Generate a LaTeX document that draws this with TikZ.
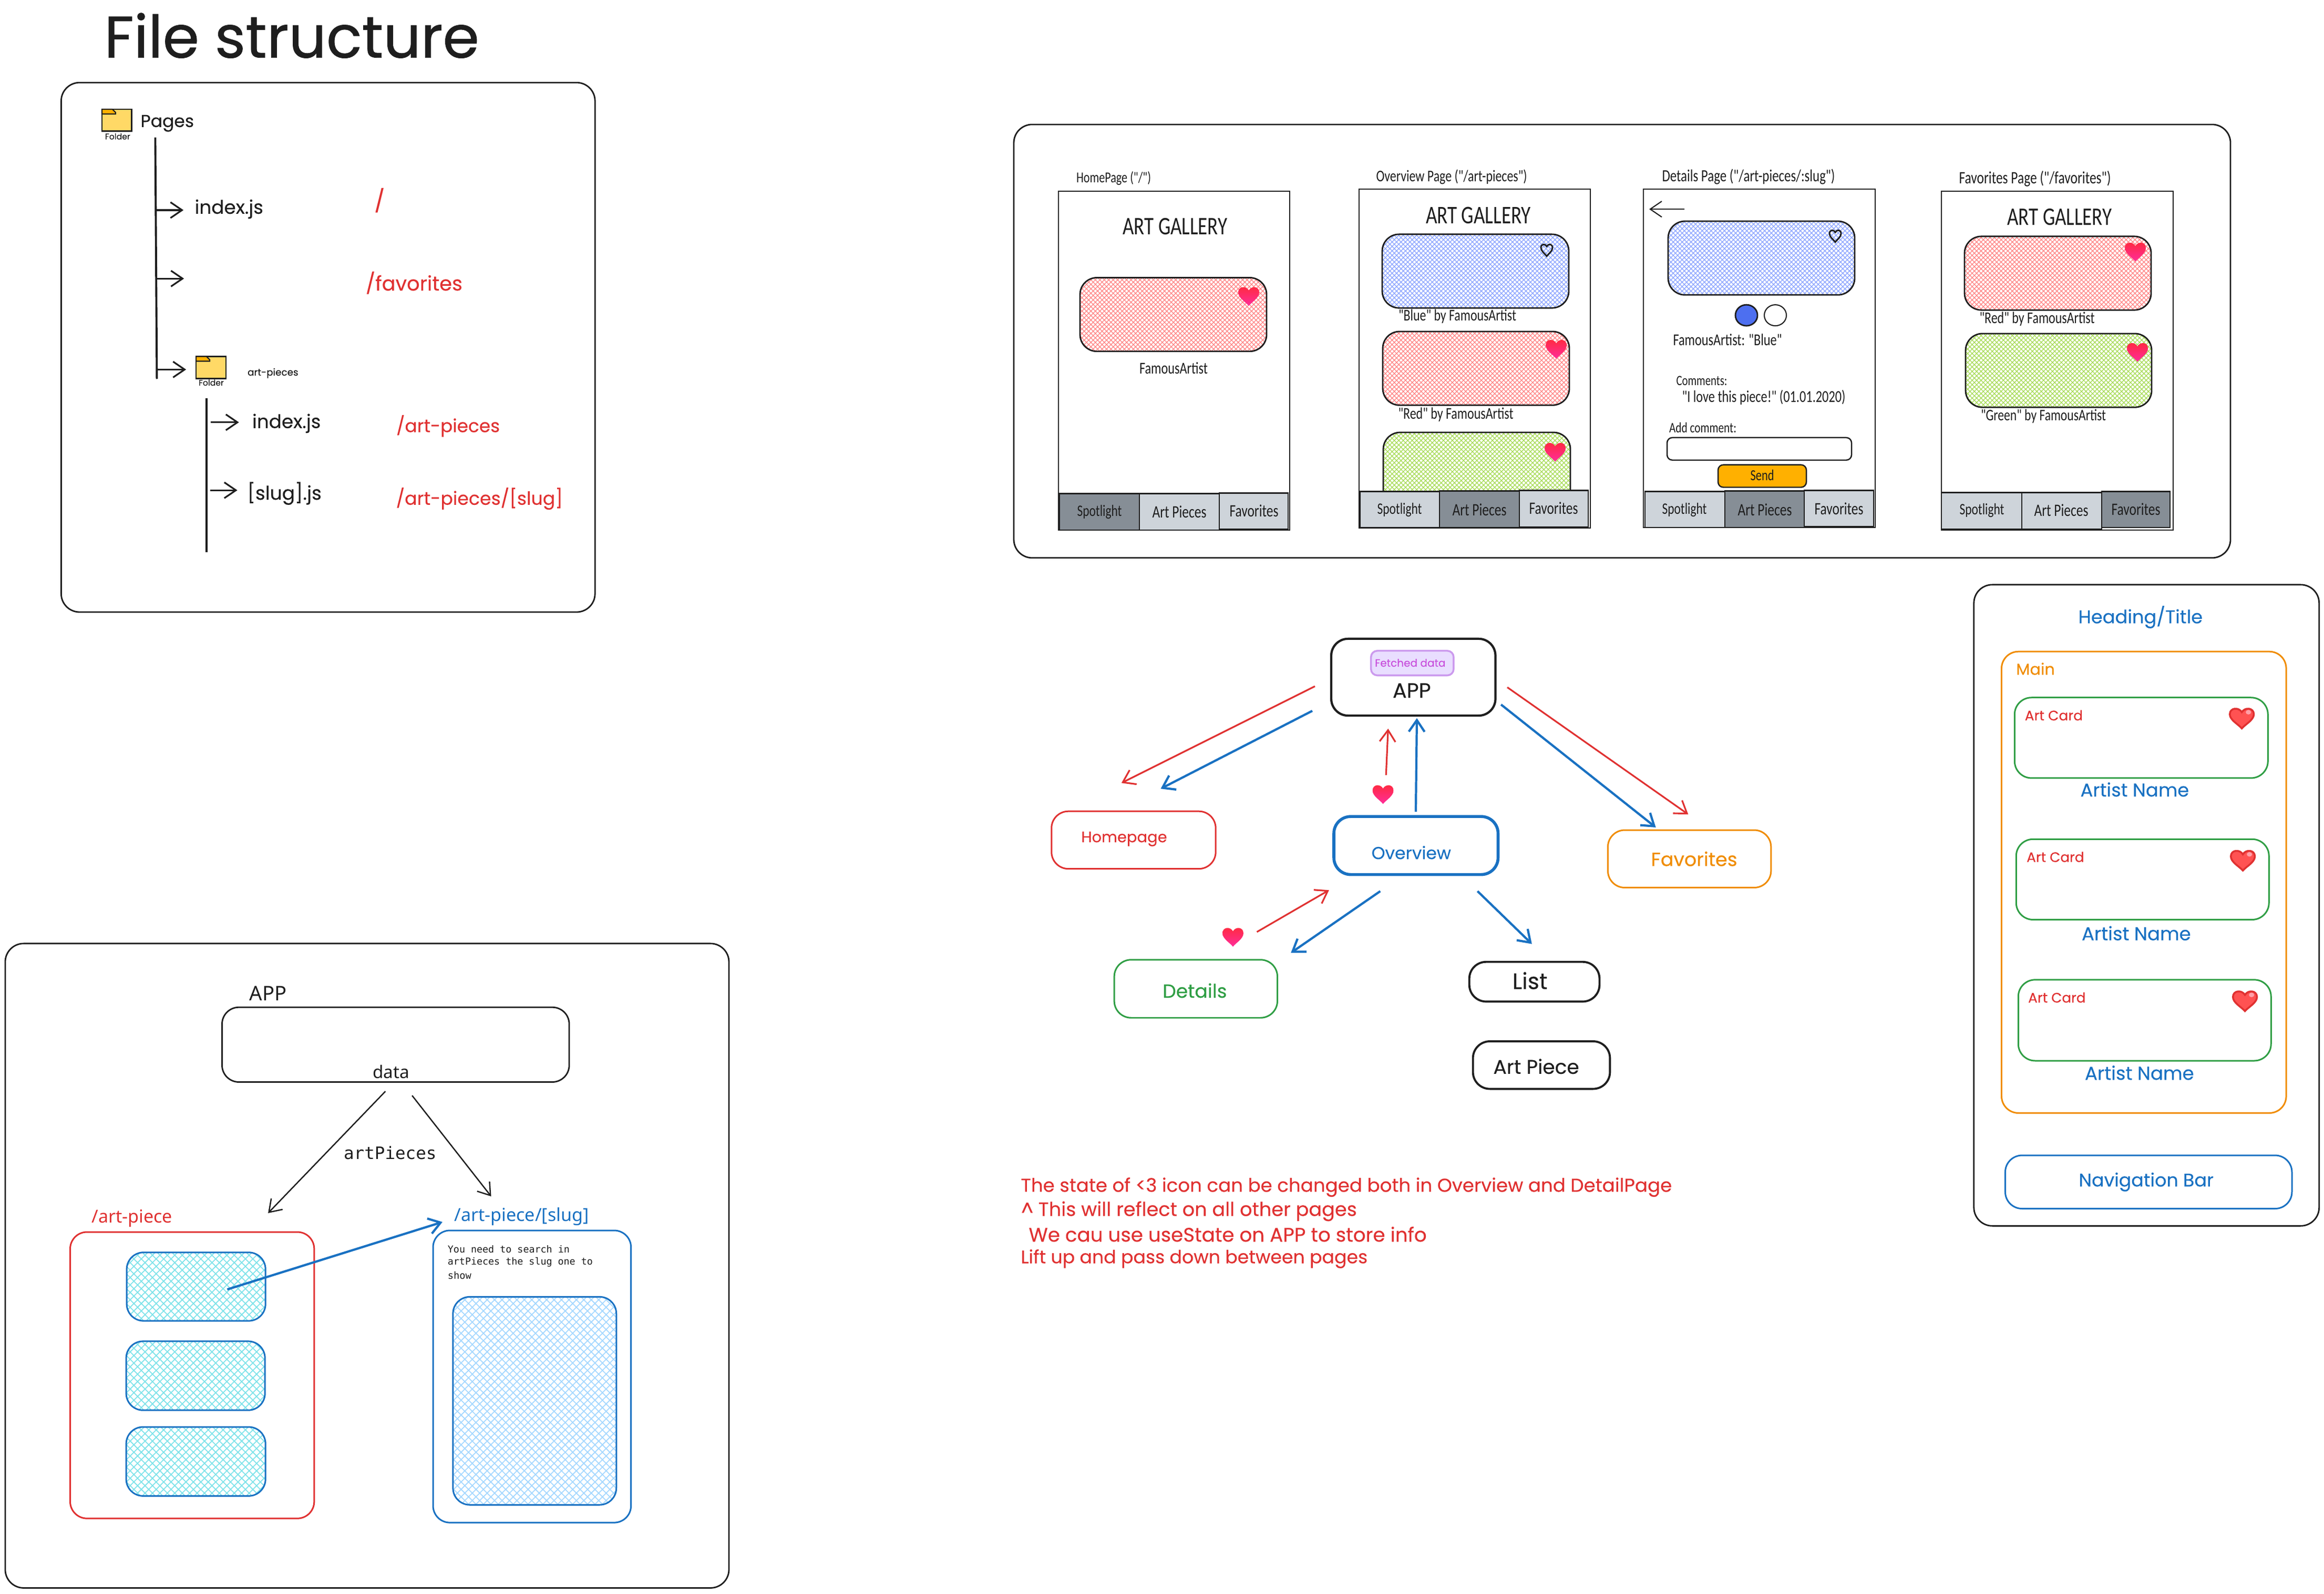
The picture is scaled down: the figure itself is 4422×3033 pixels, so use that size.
\documentclass[tikz,border=0pt]{standalone}
\usepackage{fontspec}
\usepackage{graphicx}
\usetikzlibrary{arrows.meta,patterns.meta,shapes.geometric}
\setmainfont{Poppins}[FakeBold=0.25]
\newfontfamily\titlefont{Poppins}[FakeBold=0.7]
\newfontfamily\wirefont{Carlito}
\newfontfamily\plainfont{Noto Sans}
\newfontfamily\monofont{DejaVu Sans Mono}
\newcommand\wire[1]{\scalebox{1}[1.3]{\wirefont #1}}
\newcommand\plain[1]{{\plainfont #1}}
\newcommand\mono[1]{{\monofont #1}}
\newcommand\ttl[1]{{\titlefont #1}}
\definecolor{ink}{HTML}{1E1E1E}
\definecolor{xred}{HTML}{E03131}
\definecolor{xblue}{HTML}{1971C2}
\definecolor{xorange}{HTML}{F08C00}
\definecolor{xgreen}{HTML}{2F9E44}
\definecolor{navdark}{HTML}{868E96}
\definecolor{navlight}{HTML}{CED4DA}
\definecolor{hred}{HTML}{FF8787}
\definecolor{hblue}{HTML}{8EA6FF}
\definecolor{hgreen}{HTML}{A9DC5A}
\definecolor{hcyan}{HTML}{7FE3EA}
\definecolor{hsky}{HTML}{A5D8FF}
\definecolor{dotblue}{HTML}{4D6FF0}
\definecolor{sendorange}{HTML}{FFB000}
\definecolor{fyellow}{HTML}{FFD966}
\definecolor{purplefill}{HTML}{E9DEFF}
\definecolor{purpleline}{HTML}{CC9AEE}
\definecolor{purpletext}{HTML}{C850DC}
\definecolor{hearttop}{HTML}{FF2A3C}
\definecolor{heartbot}{HTML}{FF2D9A}
\definecolor{heartfill}{HTML}{FF5252}
\definecolor{heartglow}{HTML}{FFA0A8}
\newdimen\pxu \pxu=0.01cm
\def\fx{1}\def\fy{1}
\newenvironment{zone}[4]{\def\fx{#3}\def\fy{#4}\begin{scope}[shift={(#1,#2)},xscale=#3,yscale=#4,shift={(-#1,-#2)}]}{\end{scope}}
\tikzset{
  labelbox/.style={inner sep=0pt,outer sep=0pt},
  framebox/.style={draw=ink,line width=.8pt,inner sep=0pt,outer sep=0pt,rounded corners=.35cm},
  cardbox/.style={draw=ink,line width=.8pt,inner sep=0pt,outer sep=0pt,rounded corners=.32cm},
  colorbox/.style={draw=#1,line width=.85pt,inner sep=0pt,outer sep=0pt,rounded corners=.32cm},
  phonebox/.style={draw=ink,line width=.6pt,inner sep=0pt,outer sep=0pt,fill=white},
  navon/.style={draw=ink,line width=.7pt,inner sep=0pt,outer sep=0pt,fill=navdark},
  navoff/.style={draw=ink,line width=.7pt,inner sep=0pt,outer sep=0pt,fill=navlight},
  hatch/.style n args={3}{preaction={pattern={Lines[angle=45,distance=#2,line width=#3]},pattern color=#1},
     pattern={Lines[angle=-45,distance=#2,line width=#3]},pattern color=#1},
  linkbase/.style={line width=.9pt,-{Straight Barb[length=2.2mm,width=3mm]}},
  treeline/.style={draw=ink,line width=1.1pt},
}
\newcommand\tlab[7]{\node[labelbox,text=#5] (#1) at (#2,#3) {\resizebox{\fx\dimexpr#4\pxu\relax}{!}{#6{#7}}};}
\newcommand\rbox[6]{\node[#2,anchor=north west,minimum width={(#5-#3)*\fx*0.01cm},minimum height={(#6-#4)*\fy*0.01cm}] (#1) at (#3,#4) {};}
\newcommand\cnct[6]{\coordinate (#1s) at (#3,#4);\coordinate (#1e) at (#5,#6);\draw[#2] (#1s) -- (#1e);}
\newcommand\heartpath{(0,-.55) .. controls (-.25,-1.05) and (-1,-1) .. (-1,-.35) .. controls (-1,.2) and (-.3,.6) .. (0,1) .. controls (.3,.6) and (1,.2) .. (1,-.35) .. controls (1,-1) and (.25,-1.05) .. (0,-.55) -- cycle}
\newcommand\gheart[2]{\begin{scope}[shift={(#1,#2)},xscale=20,yscale=19]\shade[top color=hearttop,bottom color=heartbot] \heartpath;\end{scope}}
\newcommand\oheart[2]{\begin{scope}[shift={(#1,#2)},xscale=11,yscale=12]\draw[ink,line width=.8pt] \heartpath;\end{scope}}
\newcommand\rheart[2]{\begin{scope}[shift={(#1,#2)},xscale=23,yscale=20]\draw[fill=heartfill,draw=xred,line width=1pt] \heartpath;\fill[heartglow] (.55,-.55) ellipse (.22 and .22);\end{scope}}
\newcommand\folder[2]{\begin{scope}[shift={(#1,#2)}]
  \fill[fyellow,draw=ink,line width=.7pt] (0,0) rectangle (57,42);
  \fill[sendorange,draw=ink,line width=.6pt] (0,0) -- (20,0) -- (26,6) -- (26,9) -- (0,9) -- cycle;
  \end{scope}}
\begin{document}
\begin{tikzpicture}[x=0.01cm,y=-0.01cm]
\useasboundingbox (0,0) rectangle (4422,3033);
\fill[white] (0,0) rectangle (4422,3033);

% ---------- File structure ----------
\begin{zone}{0}{0}{.99487}{.99487}
\tlab{title}{558}{68}{717}{ink}{\ttl}{File structure}
\rbox{fsframe}{framebox}{117}{158}{1138}{1171}
\folder{195}{209}
\tlab{fold1}{225}{261}{48}{ink}{}{Folder}
\tlab{pages}{320}{236}{102}{ink}{}{Pages}
\cnct{tree1}{treeline}{297}{263}{300}{725}
\cnct{fa1}{linkbase,ink}{298}{402}{351}{402}
\tlab{idx1}{438}{400}{131}{ink}{}{index.js}
\cnct{fa2}{linkbase,ink}{300}{533}{352}{533}
\cnct{fa3}{linkbase,ink}{302}{707}{356}{707}
\folder{375}{682}
\tlab{fold2}{404}{732}{48}{ink}{}{Folder}
\tlab{artp}{522}{714}{97}{ink}{}{art-pieces}
\cnct{tree2}{treeline}{395}{762}{395}{1056}
\cnct{fa4}{linkbase,ink}{403}{808}{457}{808}
\tlab{idx2}{548}{810}{131}{ink}{}{index.js}
\cnct{fa5}{linkbase,ink}{402}{938}{454}{938}
\tlab{slug}{544}{944}{142}{ink}{}{[slug].js}
\tlab{rroot}{726}{383}{20}{xred}{}{/}
\tlab{rfav}{792}{541}{185}{xred}{}{/favorites}
\tlab{rart}{857}{815}{198}{xred}{}{/art-pieces}
\tlab{rslug}{917}{954}{319}{xred}{}{/art-pieces/[slug]}
\end{zone}

% ---------- Wireframes ----------
\begin{zone}{0}{220}{1}{.99506}
\rbox{wframe}{framebox}{1929}{237}{4244}{1066}

% phone 1
\rbox{ph1}{phonebox}{2014}{365}{2454}{1013}
\tlab{ph1t}{2119}{340}{142}{ink}{\wire}{HomePage ("/")}
\tlab{ph1g}{2236}{432}{199}{ink}{\wire}{ART GALLERY}
\rbox{ph1a}{cardbox,hatch={hred}{.06cm}{.014cm}}{2055}{530}{2410}{671}
\gheart{2376}{565}
\tlab{ph1c}{2233}{703}{130}{ink}{\wire}{FamousArtist}
\rbox{ph1n1}{navon}{2016}{943}{2168}{1013}
\rbox{ph1n2}{navoff}{2168}{943}{2320}{1013}
\rbox{ph1n3}{navoff}{2320}{942}{2451}{1011}
\tlab{ph1l1}{2092}{978}{85}{ink}{\wire}{Spotlight}
\tlab{ph1l2}{2244}{978}{103}{ink}{\wire}{Art Pieces}
\tlab{ph1l3}{2386}{976}{93}{ink}{\wire}{Favorites}

% phone 2
\rbox{ph2}{phonebox}{2586}{361}{3026}{1009}
\tlab{ph2t}{2762}{337}{287}{ink}{\wire}{Overview Page ("/art-pieces")}
\tlab{ph2g}{2813}{411}{200}{ink}{\wire}{ART GALLERY}
\rbox{ph2a}{cardbox,hatch={hblue}{.06cm}{.014cm}}{2630}{447}{2985}{588}
\oheart{2943}{477}
\tlab{ph2c}{2773}{604}{224}{ink}{\wire}{"Blue" by FamousArtist}
\rbox{ph2b}{cardbox,hatch={hred}{.06cm}{.014cm}}{2631}{633}{2986}{774}
\gheart{2961}{666}
\tlab{ph2d}{2770}{792}{219}{ink}{\wire}{"Red" by FamousArtist}
\rbox{ph2e}{cardbox,hatch={hgreen}{.06cm}{.014cm}}{2632}{826}{2988}{990}
\gheart{2959}{863}
\rbox{ph2n1}{navoff}{2588}{939}{2739}{1008}
\rbox{ph2n2}{navon}{2739}{938}{2891}{1008}
\rbox{ph2n3}{navoff}{2891}{937}{3022}{1007}
\tlab{ph2l1}{2663}{974}{85}{ink}{\wire}{Spotlight}
\tlab{ph2l2}{2815}{974}{103}{ink}{\wire}{Art Pieces}
\tlab{ph2l3}{2956}{971}{93}{ink}{\wire}{Favorites}

% phone 3
\rbox{ph3}{phonebox}{3127}{361}{3568}{1008}
\tlab{ph3t}{3327}{337}{329}{ink}{\wire}{Details Page ("/art-pieces/:slug")}
\cnct{back}{linkbase,ink,line width=.6pt}{3205}{399}{3138}{399}
\rbox{ph3a}{cardbox,hatch={hblue}{.06cm}{.014cm}}{3174}{422}{3529}{563}
\oheart{3492}{450}
\node[draw=ink,line width=.8pt,fill=dotblue,ellipse,minimum width=.42cm,minimum height=.40cm,inner sep=0pt] (dot1) at (3323,602) {};
\node[draw=ink,line width=.6pt,fill=white,ellipse,minimum width=.42cm,minimum height=.40cm,inner sep=0pt] (dot2) at (3378,602) {};
\tlab{ph3c}{3287}{649}{207}{ink}{\wire}{FamousArtist:  "Blue"}
\tlab{ph3d}{3238}{727}{97}{ink}{\wire}{Comments:}
\tlab{ph3e}{3356}{759}{311}{ink}{\wire}{"I love this piece!" (01.01.2020)}
\tlab{ph3f}{3240}{817}{128}{ink}{\wire}{Add comment:}
\rbox{ph3in}{draw=ink,line width=.7pt,fill=white,rounded corners=.1cm,inner sep=0pt,outer sep=0pt}{3172}{836}{3523}{879}
\rbox{ph3s}{draw=ink,line width=.7pt,fill=sendorange,rounded corners=.1cm,inner sep=0pt,outer sep=0pt}{3269}{888}{3437}{931}
\tlab{ph3sl}{3353}{908}{45}{ink}{\wire}{Send}
\rbox{ph3n1}{navoff}{3130}{939}{3282}{1008}
\rbox{ph3n2}{navon}{3282}{938}{3433}{1008}
\rbox{ph3n3}{navoff}{3433}{937}{3565}{1006}
\tlab{ph3l1}{3205}{974}{85}{ink}{\wire}{Spotlight}
\tlab{ph3l2}{3358}{974}{103}{ink}{\wire}{Art Pieces}
\tlab{ph3l3}{3499}{972}{93}{ink}{\wire}{Favorites}

% phone 4
\rbox{ph4}{phonebox}{3694}{365}{4135}{1013}
\tlab{ph4t}{3872}{341}{289}{ink}{\wire}{Favorites Page ("/favorites")}
\tlab{ph4g}{3919}{414}{199}{ink}{\wire}{ART GALLERY}
\rbox{ph4a}{cardbox,hatch={hred}{.06cm}{.014cm}}{3738}{451}{4093}{592}
\gheart{4063}{480}
\tlab{ph4c}{3876}{609}{219}{ink}{\wire}{"Red" by FamousArtist}
\rbox{ph4b}{cardbox,hatch={hgreen}{.06cm}{.014cm}}{3740}{637}{4094}{778}
\gheart{4067}{672}
\tlab{ph4d}{3888}{795}{238}{ink}{\wire}{"Green" by FamousArtist}
\rbox{ph4n1}{navoff}{3694}{941}{3847}{1011}
\rbox{ph4n2}{navoff}{3847}{941}{3999}{1011}
\rbox{ph4n3}{navon}{3999}{939}{4129}{1008}
\tlab{ph4l1}{3771}{975}{85}{ink}{\wire}{Spotlight}
\tlab{ph4l2}{3922}{975}{103}{ink}{\wire}{Art Pieces}
\tlab{ph4l3}{4064}{973}{93}{ink}{\wire}{Favorites}
\end{zone}

% ---------- Flow diagram ----------
\begin{zone}{1950}{1180}{.99493}{.99502}
\rbox{app}{cardbox,line width=1.2pt}{2536}{1216}{2850}{1363}
\rbox{fetched}{draw=purpleline,fill=purplefill,line width=1pt,rounded corners=.12cm,inner sep=0pt,outer sep=0pt}{2612}{1239}{2770}{1286}
\tlab{fetchedl}{2687}{1262}{135}{purpletext}{}{Fetched data}
\tlab{appl}{2690}{1315}{73}{ink}{}{APP}
\rbox{home}{colorbox=xred}{2001}{1546}{2315}{1656}
\tlab{homel}{2140}{1599}{164}{xred}{}{Homepage}
\rbox{over}{colorbox=xblue,line width=1.6pt}{2541}{1556}{2855}{1667}
\tlab{overl}{2689}{1625}{152}{xblue}{}{Overview}
\rbox{fav}{colorbox=xorange}{3065}{1582}{3377}{1692}
\tlab{favl}{3230}{1637}{165}{xorange}{}{Favorites}
\rbox{det}{colorbox=xgreen}{2121}{1830}{2433}{1941}
\tlab{detl}{2275}{1889}{123}{xgreen}{}{Details}
\rbox{list}{cardbox,line width=1.1pt}{2800}{1834}{3049}{1910}
\tlab{listl}{2916}{1870}{67}{ink}{}{List}
\rbox{piece}{cardbox,line width=1.1pt}{2807}{1986}{3069}{2077}
\tlab{piecel}{2928}{2034}{164}{ink}{}{Art Piece}
\cnct{f1}{linkbase,xred}{2505}{1307}{2135}{1492}
\cnct{f2}{linkbase,xblue,line width=1.2pt}{2500}{1354}{2210}{1503}
\cnct{f3}{linkbase,xred}{2641}{1477}{2645}{1388}
\cnct{f4}{linkbase,xblue,line width=1.2pt}{2698}{1547}{2700}{1368}
\cnct{f5}{linkbase,xred}{2873}{1309}{3219}{1552}
\cnct{f6}{linkbase,xblue,line width=1.2pt}{2861}{1342}{3157}{1577}
\cnct{f7}{linkbase,xred}{2394}{1777}{2532}{1697}
\cnct{f8}{linkbase,xblue,line width=1.2pt}{2630}{1699}{2459}{1817}
\cnct{f9}{linkbase,xblue,line width=1.2pt}{2816}{1699}{2920}{1800}
\gheart{2635}{1513}
\gheart{2348}{1786}
\tlab{note1}{2565}{2265}{1245}{xred}{}{The state of <3 icon can be changed both in Overview and DetailPage}
\tlab{note2}{2264}{2311}{642}{xred}{}{\textasciicircum\ This will reflect on all other pages}
\tlab{note3}{2338}{2355}{761}{xred}{}{We cau use useState on APP to store info}
\tlab{note4}{2274}{2402}{663}{xred}{}{Lift up and pass down between pages}
\end{zone}

% ---------- Layout panel ----------
\begin{zone}{3720}{1090}{.99373}{.99465}
\rbox{lay}{framebox}{3756}{1113}{4417}{2340}
\tlab{layh}{4075}{1175}{238}{xblue}{}{Heading/Title}
\rbox{laym}{colorbox=xorange}{3809}{1241}{4354}{2124}
\tlab{laymain}{3874}{1274}{74}{xorange}{}{Main}
\rbox{c1}{colorbox=xgreen}{3834}{1329}{4319}{1483}
\tlab{c1l}{3909}{1363}{111}{xred}{}{Art Card}
\rheart{4269}{1368}
\tlab{c1n}{4064}{1505}{208}{xblue}{}{Artist Name}
\rbox{c2}{colorbox=xgreen}{3837}{1600}{4321}{1754}
\tlab{c2l}{3912}{1634}{110}{xred}{}{Art Card}
\rheart{4271}{1640}
\tlab{c2n}{4067}{1780}{209}{xblue}{}{Artist Name}
\rbox{c3}{colorbox=xgreen}{3841}{1869}{4325}{2024}
\tlab{c3l}{3915}{1903}{110}{xred}{}{Art Card}
\rheart{4275}{1909}
\tlab{c3n}{4073}{2047}{209}{xblue}{}{Artist Name}
\rbox{navb}{colorbox=xblue}{3816}{2205}{4365}{2307}
\tlab{navbl}{4086}{2256}{258}{xblue}{}{Navigation Bar}
\end{zone}

% ---------- Data flow panel ----------
\begin{zone}{0}{1770}{.99638}{.99476}
\rbox{dframe}{framebox}{10}{1796}{1392}{3029}
\tlab{dapp}{512}{1891}{71}{ink}{\plain}{APP}
\rbox{dappb}{cardbox}{424}{1918}{1087}{2061}
\tlab{ddata}{747}{2041}{70}{ink}{\plain}{data}
\cnct{d1}{linkbase,ink,line width=.7pt}{736}{2079}{512}{2312}
\cnct{d2}{linkbase,ink,line width=.7pt}{787}{2087}{938}{2280}
\tlab{dart}{745}{2197}{177}{ink}{\mono}{artPieces}
\rbox{dred}{colorbox=xred}{134}{2348}{600}{2896}
\tlab{dredl}{252}{2322}{154}{xred}{\plain}{/art-piece}
\rbox{t1}{colorbox=xblue,hatch={hcyan}{.10cm}{.018cm}}{242}{2387}{507}{2518}
\rbox{t2}{colorbox=xblue,hatch={hcyan}{.10cm}{.018cm}}{241}{2557}{506}{2689}
\rbox{t3}{colorbox=xblue,hatch={hcyan}{.10cm}{.018cm}}{241}{2721}{507}{2853}
\rbox{dblue}{colorbox=xblue}{827}{2345}{1205}{2904}
\tlab{dbluel}{996}{2318}{257}{xblue}{\plain}{/art-piece/[slug]}
\node[labelbox,text=ink,anchor=west] (dtx1) at (855,2381) {\resizebox{232\pxu}{!}{\mono{You need to search in}}};
\node[labelbox,text=ink,anchor=west] (dtx2) at (855,2406) {\resizebox{276\pxu}{!}{\mono{artPieces the slug one to}}};
\node[labelbox,text=ink,anchor=west] (dtx3) at (855,2431) {\resizebox{45\pxu}{!}{\mono{show}}};
\rbox{t4}{colorbox=xblue,hatch={hsky}{.10cm}{.018cm}}{865}{2472}{1177}{2870}
\cnct{d3}{linkbase,xblue,line width=1.2pt}{434}{2458}{845}{2329}
\end{zone}
\end{tikzpicture}
\end{document}
